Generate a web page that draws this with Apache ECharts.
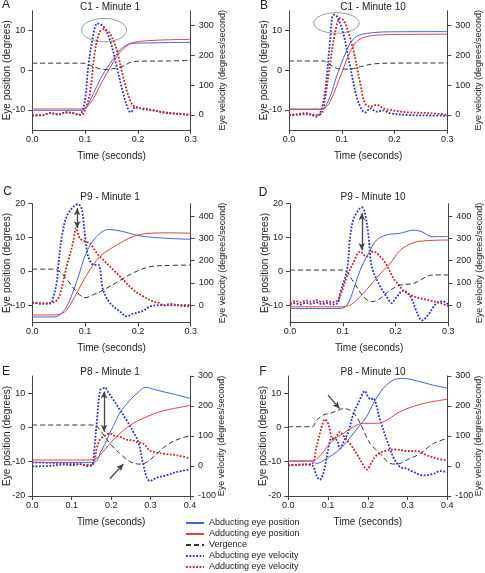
<!DOCTYPE html>
<html><head><meta charset="utf-8">
<script src="https://cdn.jsdelivr.net/npm/echarts@6/dist/echarts.min.js"></script>
<style>html,body{margin:0;padding:0;background:#fff}#c{width:485px;height:573px}</style>
</head><body><div id="c"></div>
<script>
// ---------- DATA (time in s, position in degrees, velocity in degrees/second) ----------
const panelTitles = ['C1 - Minute 1','C1 - Minute 10','P9 - Minute 1','P9 - Minute 10','P8 - Minute 1','P8 - Minute 10'];
const panelLetters = ['A','B','C','D','E','F'];
const seriesNames = ['Abducting eye position','Adducting eye position','Vergence','Abducting eye velocity','Adducting eye velocity'];

const xTicksShort = [0,0.1,0.2,0.3];
const xTicksLong = [0,0.1,0.2,0.3,0.4];
const posTicksAB = [-10,0,10];
const velTicksAB = [0,100,200,300];
const posTicksCD = [-10,0,10,20];
const velTicksCD = [0,100,200,300,400];
const posTicksEF = [-20,-10,0,10];
const velTicksEF = [-100,0,100,200,300];

// Panel A
const A_abPos = [[0,-10.1],[0.09,-10.1],[0.097,-10.0],[0.103,-9.2],[0.116,-5.8],[0.128,-2.4],[0.141,0.5],[0.154,3.0],[0.166,5.1],[0.179,6.4],[0.191,6.8],[0.223,6.9],[0.26,7.0],[0.3,7.05]];
const A_adPos = [[0,-9.75],[0.09,-9.75],[0.097,-9.7],[0.103,-9.3],[0.116,-7.1],[0.128,-3.9],[0.141,-0.8],[0.154,2.2],[0.166,4.5],[0.179,6.1],[0.191,7.0],[0.223,7.5],[0.26,7.7],[0.3,7.8]];
const A_verg = [[0,1.8],[0.095,1.8],[0.11,1.2],[0.128,0.35],[0.141,0.2],[0.157,0.5],[0.172,1.1],[0.188,2.1],[0.204,2.3],[0.255,2.35],[0.3,2.5]];
const A_abVel = [[0,-2],[0.021,-1],[0.033,6],[0.049,2],[0.065,9],[0.078,6],[0.087,0],[0.093,6],[0.1,50],[0.106,162],[0.116,274],[0.123,308],[0.128,305],[0.135,297],[0.147,252],[0.16,162],[0.172,73],[0.182,17],[0.187,9],[0.195,26],[0.21,19],[0.223,17],[0.255,6],[0.28,3],[0.3,0]];
const A_adVel = [[0,-2],[0.021,0],[0.033,6],[0.049,2],[0.065,8],[0.084,3],[0.093,0],[0.1,17],[0.109,73],[0.119,218],[0.128,280],[0.135,288],[0.141,283],[0.147,274],[0.16,218],[0.172,129],[0.185,50],[0.195,26],[0.21,22],[0.223,17],[0.255,8],[0.3,0]];

// Panel B
const B_abPos = [[0,-9.9],[0.06,-9.9],[0.066,-9.6],[0.078,-6.6],[0.09,-1.6],[0.103,3.0],[0.116,6.8],[0.128,8.5],[0.147,9.3],[0.191,9.7],[0.3,9.75]];
const B_adPos = [[0,-9.75],[0.062,-9.75],[0.07,-9.3],[0.078,-7.9],[0.09,-4.1],[0.103,0.5],[0.116,4.7],[0.128,7.2],[0.147,8.5],[0.191,9.0],[0.3,9.1]];
const B_verg = [[0,2.35],[0.065,2.35],[0.075,1.7],[0.084,0.9],[0.097,0.3],[0.116,0.3],[0.135,0.9],[0.16,1.6],[0.191,1.8],[0.3,1.85]];
const B_abVel = [[0,0],[0.0145,2],[0.0335,6],[0.043,0],[0.052,-6],[0.059,6],[0.068,73],[0.078,252],[0.084,336],[0.09,333],[0.097,308],[0.103,274],[0.116,162],[0.128,62],[0.138,17],[0.144,8],[0.154,22],[0.166,11],[0.179,15],[0.191,6],[0.223,0],[0.268,-2],[0.3,-3]];
const B_adVel = [[0,-2],[0.0335,2],[0.052,0],[0.062,6],[0.068,50],[0.0745,129],[0.087,274],[0.097,325],[0.103,319],[0.109,297],[0.122,218],[0.135,106],[0.144,39],[0.154,28],[0.166,34],[0.179,22],[0.191,17],[0.223,9],[0.268,6],[0.3,0]];

// Panel C
const C_abPos = [[0,-13.4],[0.04,-13.4],[0.05,-13.0],[0.065,-10.4],[0.084,-3],[0.103,5.8],[0.122,10.3],[0.144,12.4],[0.166,12.0],[0.204,10.5],[0.255,9.8],[0.3,9.5]];
const C_adPos = [[0,-12.8],[0.045,-12.8],[0.055,-12.4],[0.065,-11.4],[0.084,-6.4],[0.103,-1],[0.128,4.4],[0.16,7.8],[0.191,10.3],[0.223,11.3],[0.26,11.4],[0.3,11.3]];
const C_verg = [[0,0.7],[0.04,0.7],[0.05,0.2],[0.065,-2.2],[0.084,-6],[0.1,-7.7],[0.116,-6.8],[0.128,-6],[0.16,-3.2],[0.191,-0.4],[0.223,1.4],[0.26,1.8],[0.3,1.9]];
const C_abVel = [[0,13],[0.02,5],[0.035,8],[0.04,39],[0.046,99],[0.049,173],[0.056,308],[0.065,398],[0.078,443],[0.087,454],[0.094,428],[0.1,308],[0.106,218],[0.116,181],[0.125,181],[0.134,69],[0.147,9],[0.166,-29],[0.179,-51],[0.191,-39],[0.21,-26],[0.223,-6],[0.25,0],[0.3,0]];
const C_adVel = [[0,9],[0.03,9],[0.045,18],[0.053,54],[0.065,173],[0.077,279],[0.083,346],[0.09,300],[0.1,286],[0.109,279],[0.122,234],[0.134,204],[0.147,173],[0.166,129],[0.191,69],[0.21,39],[0.229,16],[0.24,10],[0.25,-2],[0.26,5],[0.28,-3],[0.3,-6]];

// Panel D
const D_abPos = [[0,-10.9],[0.095,-10.9],[0.108,-9.9],[0.12,-5.5],[0.133,0.4],[0.152,6.3],[0.164,9.3],[0.183,10.8],[0.209,11.3],[0.234,12.2],[0.25,11.7],[0.269,10.3],[0.3,10.3]];
const D_adPos = [[0,-10.4],[0.095,-10.4],[0.114,-9.9],[0.133,-7.4],[0.158,-3],[0.177,0.4],[0.19,2.4],[0.209,6.3],[0.234,8.5],[0.259,9.1],[0.3,9.3]];
const D_verg = [[0,0.44],[0.1,0.44],[0.12,-3],[0.139,-7.4],[0.155,-8.9],[0.171,-7.9],[0.19,-5.5],[0.209,-4],[0.234,-3.5],[0.259,-1.5],[0.272,-1],[0.3,-1]];
const D_abVel = [[0,4],[0.01,8],[0.02,2],[0.03,10],[0.04,5],[0.05,12],[0.06,4],[0.07,9],[0.08,3],[0.09,8],[0.095,54],[0.108,159],[0.114,308],[0.12,383],[0.13,428],[0.136,440],[0.142,413],[0.149,308],[0.155,173],[0.171,84],[0.183,39],[0.193,9],[0.2,30],[0.215,65],[0.228,39],[0.24,-29],[0.25,-69],[0.262,-44],[0.278,9],[0.291,16],[0.3,1]];
const D_adVel = [[0,9],[0.01,18],[0.02,12],[0.03,20],[0.04,15],[0.05,22],[0.06,14],[0.07,18],[0.08,13],[0.09,20],[0.095,39],[0.108,129],[0.12,189],[0.133,241],[0.145,218],[0.158,241],[0.171,218],[0.183,181],[0.196,120],[0.205,95],[0.215,65],[0.234,39],[0.259,24],[0.285,9],[0.3,-6]];

// Panel E
const E_abPos = [[0,-10.2],[0.155,-10.2],[0.165,-9.6],[0.172,-7.5],[0.188,-4],[0.197,-1.5],[0.206,0.5],[0.222,4.2],[0.248,8],[0.273,10.7],[0.286,11.7],[0.315,10.9],[0.358,9.7],[0.4,8.5]];
const E_adPos = [[0,-9.5],[0.146,-9.5],[0.16,-9.2],[0.172,-8.1],[0.197,-4.7],[0.223,-1.7],[0.256,1.2],[0.29,3.1],[0.324,4.6],[0.358,5.5],[0.4,6.4]];
const E_verg = [[0,0.7],[0.158,0.7],[0.172,-0.8],[0.197,-4.7],[0.222,-7.6],[0.248,-10],[0.273,-10.7],[0.29,-10.2],[0.307,-8.6],[0.341,-5.2],[0.375,-3.2],[0.4,-2.5]];
const E_abVel = [[0,-1],[0.04,0],[0.08,5],[0.1,3],[0.12,6],[0.14,0],[0.152,2],[0.157,52],[0.164,153],[0.172,253],[0.18,259],[0.184,262],[0.192,247],[0.206,220],[0.223,186],[0.239,153],[0.256,114],[0.269,80],[0.281,8],[0.29,-37],[0.298,-50],[0.315,-39],[0.34,-31],[0.366,-20],[0.4,-12]];
const E_adVel = [[0,12],[0.05,10],[0.1,8],[0.13,5],[0.15,4],[0.158,20],[0.164,64],[0.172,88],[0.18,97],[0.197,108],[0.21,100],[0.223,97],[0.239,88],[0.256,85],[0.264,80],[0.281,75],[0.298,52],[0.315,45],[0.332,41],[0.366,36],[0.4,25]];

// Panel F
const F_abPos = [[0,-9.8],[0.06,-9.8],[0.071,-10.5],[0.097,-9],[0.122,-7.1],[0.147,-4.2],[0.164,-1.7],[0.181,0.7],[0.197,3.1],[0.214,7],[0.239,11.4],[0.264,13.8],[0.289,14.3],[0.323,13.6],[0.365,12.3],[0.4,11.5]];
const F_adPos = [[0,-9.8],[0.06,-9.8],[0.075,-8.8],[0.088,-7.1],[0.113,-3.7],[0.139,-1.7],[0.164,0.2],[0.189,1.2],[0.222,1.2],[0.248,2.1],[0.273,4.1],[0.306,5.8],[0.348,7.2],[0.4,8.2]];
const F_verg = [[0,0.2],[0.06,0.2],[0.071,2.1],[0.088,3.6],[0.105,4.1],[0.122,4.8],[0.139,5.5],[0.155,5],[0.172,3.1],[0.189,-0.8],[0.206,-4.7],[0.231,-7.6],[0.256,-10.5],[0.273,-10.7],[0.298,-9.5],[0.332,-7.6],[0.365,-4.7],[0.4,-3.2]];
const F_abVel = [[0,2],[0.04,5],[0.06,2],[0.071,-31],[0.079,-46],[0.088,-26],[0.1,52],[0.109,92],[0.122,86],[0.13,58],[0.139,80],[0.151,114],[0.164,175],[0.176,209],[0.193,250],[0.2,232],[0.208,222],[0.214,226],[0.222,200],[0.231,153],[0.248,86],[0.264,30],[0.281,-3],[0.298,-9],[0.315,-20],[0.34,-31],[0.365,-26],[0.382,-17],[0.4,-20]];
const F_adVel = [[0,2],[0.04,5],[0.06,8],[0.071,64],[0.084,131],[0.092,156],[0.1,142],[0.113,88],[0.122,100],[0.13,114],[0.139,100],[0.155,75],[0.172,41],[0.189,2],[0.197,-12],[0.21,13],[0.222,36],[0.248,52],[0.273,55],[0.298,50],[0.323,50],[0.348,36],[0.373,25],[0.4,19]];

// Annotations (data coordinates)
const A_ellipse = {t:0.136, v:285};
const B_ellipse = {t:0.09, v:309};
const C_arrow = [[0.085,436],[0.085,346]];
const D_arrow = [[0.136,413],[0.136,248]];
const E_arrow = [[0.182,248],[0.182,114]];
const E_vergArrow = [[0.197,-14.9],[0.231,-10.7]];
const F_vergArrow = [[0.1,9.4],[0.129,5.5]];

// ---------- LAYOUT / STYLE ----------
const panelData = [
  [A_abPos,A_adPos,A_verg,A_abVel,A_adVel],
  [B_abPos,B_adPos,B_verg,B_abVel,B_adVel],
  [C_abPos,C_adPos,C_verg,C_abVel,C_adVel],
  [D_abPos,D_adPos,D_verg,D_abVel,D_adVel],
  [E_abPos,E_adPos,E_verg,E_abVel,E_adVel],
  [F_abPos,F_adPos,F_verg,F_abVel,F_adVel]
];
const layout = [
  {left:32.3, top:10.8, width:158.4, height:119},
  {left:289,  top:10.8, width:158.3, height:119},
  {left:32.3, top:203.7, width:158.4, height:118.7},
  {left:290,  top:203.7, width:158.3, height:118.7},
  {left:32.3, top:376, width:157.7, height:120},
  {left:288.3,top:376, width:159, height:120}
];
const scales = [
  {xMax:0.3, xT:xTicksShort, lMin:-15, lMax:15, lT:posTicksAB, rMin:-50, rMax:350, rT:velTicksAB},
  {xMax:0.3, xT:xTicksShort, lMin:-15, lMax:15, lT:posTicksAB, rMin:-50, rMax:350, rT:velTicksAB},
  {xMax:0.3, xT:xTicksShort, lMin:-15, lMax:20, lT:posTicksCD, rMin:-78, rMax:456, rT:velTicksCD},
  {xMax:0.3, xT:xTicksShort, lMin:-15, lMax:20, lT:posTicksCD, rMin:-78, rMax:456, rT:velTicksCD},
  {xMax:0.4, xT:xTicksLong, lMin:-20, lMax:15, lT:posTicksEF, rMin:-100, rMax:300, rT:velTicksEF},
  {xMax:0.4, xT:xTicksLong, lMin:-20, lMax:15, lT:posTicksEF, rMin:-100, rMax:300, rT:velTicksEF}
];
const titlePos = [[110,7],[373,7],[110,197],[373,197],[110,372],[373,372]];
const letterPos = [[6,5],[264,6],[7.5,191.5],[263,192.5],[6,372],[263,372]];

const FONT = 'Liberation Sans, Arial, sans-serif';
const AX = '#444', TXT = '#222';
const lineStyles = [
  {color:'#4466dd', width:1, type:'solid'},
  {color:'#dd4444', width:1, type:'solid'},
  {color:'#333333', width:1, type:[5,3]},
  {color:'#2233cc', width:1.8, type:[1.8,1.6]},
  {color:'#cc2222', width:1.8, type:[1.8,1.6]}
];

const grids=[], xAxes=[], yAxes=[], series=[];
function axisCommon(){
  return {
    nameMoveOverlap:false,
    axisLine:{show:true, onZero:false, lineStyle:{color:AX, width:1}},
    axisTick:{show:true, length:4, lineStyle:{color:AX}},
    splitLine:{show:false},
    axisLabel:{fontSize:9, color:TXT, fontFamily:FONT},
  };
}
for(let i=0;i<6;i++){
  const L=layout[i], S=scales[i];
  grids.push({left:L.left, top:L.top, width:L.width, height:L.height, containLabel:false, outerBoundsMode:'none'});
  const xa = axisCommon();
  Object.assign(xa,{type:'value', gridIndex:i, min:0, max:S.xMax,
    name:'Time (seconds)', nameLocation:'middle', nameGap:21,
    nameTextStyle:{fontSize:10, color:TXT, fontFamily:FONT}});
  xa.axisLabel = Object.assign(xa.axisLabel,{margin:5, customValues:S.xT, formatter:v=>v.toFixed(1)});
  xa.axisTick = Object.assign(xa.axisTick,{customValues:S.xT});
  xAxes.push(xa);
  const yl = axisCommon();
  Object.assign(yl,{type:'value', gridIndex:i, position:'left', min:S.lMin, max:S.lMax,
    name:'Eye position (degrees)', nameLocation:'middle', nameGap:20, nameRotate:90,
    nameTextStyle:{fontSize:10, color:TXT, fontFamily:FONT}});
  yl.axisLabel = Object.assign(yl.axisLabel,{margin:7, customValues:S.lT});
  yl.axisTick = Object.assign(yl.axisTick,{customValues:S.lT});
  yAxes.push(yl);
  const yr = axisCommon();
  Object.assign(yr,{type:'value', gridIndex:i, position:'right', min:S.rMin, max:S.rMax,
    name:'Eye velocity (degrees/second)', nameLocation:'middle', nameGap:27, nameRotate:90,
    nameTextStyle:{fontSize:9, color:TXT, fontFamily:FONT}});
  yr.axisLabel = Object.assign(yr.axisLabel,{margin:8, customValues:S.rT});
  yr.axisTick = Object.assign(yr.axisTick,{customValues:S.rT});
  yAxes.push(yr);
  for(let k=0;k<5;k++){
    const s = {
      type:'line', name:seriesNames[k], xAxisIndex:i, yAxisIndex: k<3 ? 2*i : 2*i+1,
      data:panelData[i][k], showSymbol:false, symbol:'none', smooth:0.35,
      lineStyle:Object.assign({},lineStyles[k]), itemStyle:{color:lineStyles[k].color},
      z: k<3 ? 3 : 2, animation:false, silent:true
    };
    series.push(s);
  }
}
function arrowMark(pts, both){
  return {silent:true, symbol: both?['arrow','arrow']:['none','arrow'], symbolSize:[5,7],
    label:{show:false}, lineStyle:{color:'#444', width:1.3, type:'solid'}, emphasis:{disabled:true},
    data:[[{coord:pts[0]},{coord:pts[1]}]]};
}
series[2*5+3].markLine = arrowMark(C_arrow,true);
series[3*5+3].markLine = arrowMark(D_arrow,true);
series[4*5+3].markLine = arrowMark(E_arrow,true);
series[4*5+2].markLine = arrowMark(E_vergArrow,false);
series[5*5+2].markLine = arrowMark(F_vergArrow,false);

const chart = echarts.init(document.getElementById('c'), null, {renderer:'canvas'});
const option = {
  animation:false,
  backgroundColor:'#fff',
  textStyle:{fontFamily:FONT},
  grid:grids, xAxis:xAxes, yAxis:yAxes, series:series,
  legend:{orient:'vertical', left:185, top:518.5, padding:0, itemWidth:18, itemHeight:8, itemGap:2,
    data:seriesNames.map(n=>({name:n, itemStyle:{opacity:0}})),
    itemStyle:{opacity:0},
    textStyle:{fontSize:9, color:TXT, fontFamily:FONT},
    selectedMode:false}
};
chart.setOption(option);

const graphics = [];
for(let i=0;i<6;i++){
  graphics.push({type:'text', silent:true, style:{x:titlePos[i][0], y:titlePos[i][1], text:panelTitles[i],
    fontSize:10, fontFamily:FONT, fill:TXT, align:'center', verticalAlign:'middle'}});
  graphics.push({type:'text', silent:true, style:{x:letterPos[i][0], y:letterPos[i][1], text:panelLetters[i],
    fontSize:12, fontFamily:FONT, fill:TXT, align:'center', verticalAlign:'middle'}});
}
const pa = chart.convertToPixel({xAxisIndex:0, yAxisIndex:1}, [A_ellipse.t, A_ellipse.v]);
const pb = chart.convertToPixel({xAxisIndex:1, yAxisIndex:3}, [B_ellipse.t, B_ellipse.v]);
graphics.push({type:'ellipse', silent:true, shape:{cx:pa[0], cy:pa[1], rx:22.5, ry:11.7}, style:{fill:'none', stroke:'#8aa39b', lineWidth:1}});
graphics.push({type:'ellipse', silent:true, shape:{cx:pb[0], cy:pb[1], rx:22.7, ry:10.3}, style:{fill:'none', stroke:'#8aa39b', lineWidth:1}});
chart.setOption({graphic:graphics});
</script></body></html>
